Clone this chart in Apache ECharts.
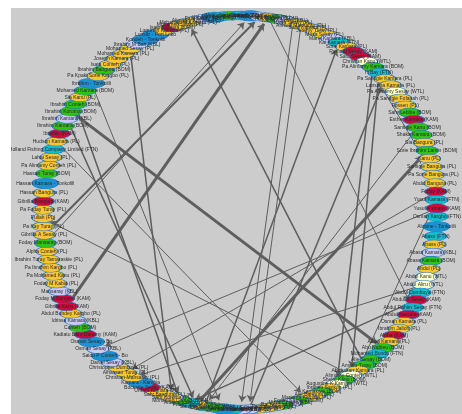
<!DOCTYPE html>
<html><head><meta charset="utf-8">
<script src="https://cdn.jsdelivr.net/npm/echarts@6/dist/echarts.min.js"></script>
<style>html,body{margin:0;padding:0;background:#fff;width:462px;height:414px;overflow:hidden}
#c{position:absolute;left:11px;top:8px;width:451px;height:406px;}</style>
</head><body><div id="c"></div>
<script>
const nodeNames = [
"Osman Kargbo (FTN)","Alusine - Tonkolili","Abass (FTN)","Abass (PL)","Abass Kamara (KBL)","Abass Kamara (BOM)","Abdul (PL)","Abdul Kanu (WTL)","Abdul Aliru (WTL)","Abdul Dumbuya (FTN)",
"Abdul K Sesay (KAM)","Abdul Rahim Sesay (FTN)","Abdul Kamara (KAM)","Osman Kamara (PL)","Ibrahim Jalloh (PL)","Alpha (KAM)","Alhaji Kamara (PL)","Abu Nabieu (BOM)","Mohamed Bundu (FTN)","Alie Sesay (BOM)",
"Amadu Turay (BOM)","Abubakarr Kamara (PL)","Alimamy Conteh (WTL)","Sheku Kanu (BOM)","Augustine K Kamara (WTL)","Ibrahim Sankoh (PL)","Kamakwie (BOM)","Alie Bangura (PL)","Mariama Kamara (PL)","Foday Kamara (BOM)",
"Musa Conteh (KBL)","Bai Koroma (BOM)","Fatmata Sesay (PL)","Santigie A Kamara (PL)","Momoh Turay (PL)","Isata Kamara (KBL)","Abu Kamara (KBL)","Lansana Fofanah (FTN)","Sorie Kamara - Port Loko","Ibrahim Kanu (BOM)",
"Santigie Sesay (BOM)","Foday Sawaneh (PL)","Alusine Kargbo (FTN)","Mohamed Conteh (BOM)","Sahr Koroma (PL)","Sahr Bangura (PL)","Umaru Kamara (PL)","Bockarie Sesay (KAM)","Kamara - Kambia","Christian Mansaray (PL)",
"Alhassan Turay (PL)","Christopher Dumbuya (PL)","Daniel Sesay (KBL)","Saidu P Conteh - Bo","Osman Sesay (KBL)","Osman Sesay - Bo","Kadiatu Bai's Daramy (KAM)","Conteh (BOM)","Idrissa Kamara (KBL)","Abdul Bundey Kargbo (PL)",
"Gibrilla Kanu (KAM)","Foday M Bangura (KAM)","Mansaray (KBL)","Foday M Kabia (PL)","Pa Mohamed Kanu (PL)","Pa Ibrahim Kargbo (PL)","Ibrahim Turay Tamaraskie (PL)","Alpha Conteh (PL)","Foday Mansaray (BOM)","Gibrilla A Sesay (PL)",
"Pa Kay Turay (PL)","Fullah (PL)","Pa Foday Turay (PL)","Gibrilla Bangura (KAM)","Hassan Bangura (PL)","Hassan Kamara - Tonkolili","Hassan Turay (BOM)","Pa Alimamy Conteh (PL)","Lahai Sesay (PL)","Holland Fishing Company Limited (FTN)",
"Hudson Kamara (PL)","Ibrahim (KAM)","Ibrahim Kamara (BOM)","Ibrahim Kamara (KBL)","Ibrahim Koroma (BOM)","Ibrahim Conteh (BOM)","Sia Kanu (PL)","Mohamed Kamara (BOM)","Ibrahim - Tonkolili","Pa Kpaki Sorie Kargbo (PL)",
"Ibrahim Bangura (BOM)","Isata Conteh (PL)","Joseph Kamara (PL)","Mohamed Kamara (PL)","Mohamed Sesay (PL)","Ibrahim M Bah (KBL)","Kondeh - Tonkolili","Lunsar - Port Loko","Logunah Kamara (PL)","Isatu Kamara (KAM)",
"Mohamed Sillah (PL)","Mohamed M Kamara (PL)","Alimamy Koroma (PL)","Fatu Sesay (KBL)","Kabala - Koinadugu","Mamadu Bah (FTN)","Mohamed Kallay (BOM)","Sorie Conteh (FTN)","Makeni - Bombali","Adama Sesay (KBL)",
"Amadu Kargbo (PL)","Alie Koroma (BOM)","Kadie Koroma (KBL)","Hawa Sesay (PL)","Ahmed Mansaray (PL)","Sallu Kamara (PL)","Jeremy Turay (PL)","Musa Sesay (PL)","Marie Kamara (KBL)","Kai Kamara (FTN)",
"Sorie Kamara (PL)","Ramatu Sesay (KAM)","Sahr Sesay (KAM)","Christian Kanu (WTL)","Pa Alimamy Kamara (BOM)","H Bay (FTN)","Pa Santigie Kamara (PL)","Lansana Kamara (PL)","Pa Alimamy Sesay (WTL)","Pa Santigie Fofanah (PL)",
"Fossen (PL)","Sahr Lebbie (BOM)","Esther Kamara (KAM)","Santigie Kanu (BOM)","Shaka Kamara (BOM)","Sia Bangura (PL)","Sorie Ibrahim Lamin (BOM)","Kanu (PL)","Santigie Bangura (PL)","Pa Sorie Bangura (PL)",
"Abdul Bangura (PL)","Foday (KAM)","Yusuf Kamara (FTN)","Yusuf Kamara (KAM)"
];
const nodeGroups = [
"FTN","DIS","FTN","PL","KBL","BOM","PL","WTL","WTL","FTN",
"KAM","FTN","KAM","PL","PL","KAM","PL","BOM","FTN","BOM",
"BOM","PL","WTL","BOM","WTL","PL","BOM","PL","PL","BOM",
"KBL","BOM","PL","PL","PL","KBL","KBL","FTN","DIS","BOM",
"BOM","PL","FTN","BOM","PL","PL","PL","KAM","DIS","PL",
"PL","PL","KBL","DIS","KBL","DIS","KAM","BOM","KBL","PL",
"KAM","KAM","KBL","PL","PL","PL","PL","PL","BOM","PL",
"PL","PL","PL","KAM","PL","DIS","BOM","PL","PL","FTN",
"PL","KAM","BOM","KBL","BOM","BOM","PL","BOM","DIS","PL",
"BOM","PL","PL","PL","PL","KBL","DIS","DIS","PL","KAM",
"PL","PL","PL","KBL","DIS","FTN","BOM","FTN","DIS","KBL",
"PL","BOM","KBL","PL","PL","PL","PL","PL","KBL","FTN",
"PL","KAM","KAM","WTL","BOM","FTN","PL","PL","WTL","PL",
"PL","BOM","KAM","BOM","BOM","PL","BOM","PL","PL","PL",
"PL","KAM","FTN","KAM"
];
const edgeSources = [
"Gibrilla Kanu (KAM)","Gibrilla A Sesay (PL)","Foday Mansaray (BOM)","Amadu Turay (BOM)","Amadu Kargbo (PL)",
"Santigie Sesay (BOM)","Pa Alimamy Kamara (BOM)","Ibrahim Koroma (BOM)","Ibrahim Conteh (BOM)","Ibrahim Kamara (KBL)",
"Alimamy Conteh (WTL)","Foday Sawaneh (PL)","Isata Kamara (KBL)","Santigie Kanu (BOM)","Yusuf Kamara (FTN)",
"Abdul Aliru (WTL)","Abdul K Sesay (KAM)","H Bay (FTN)","Christian Kanu (WTL)","Yusuf Kamara (KAM)",
"Foday (KAM)","Mohamed Sesay (PL)","Ibrahim - Tonkolili","Ahmed Mansaray (PL)","Hawa Sesay (PL)",
"Hudson Kamara (PL)"
];
const edgeTargets = [
"Amadu Kargbo (PL)","Adama Sesay (KBL)","Makeni - Bombali","Mohamed M Kamara (PL)","Abdul Rahim Sesay (FTN)",
"Kai Kamara (FTN)","Augustine K Kamara (WTL)","Abu Nabieu (BOM)","Mohamed Conteh (BOM)","Foday Sawaneh (PL)",
"Fullah (PL)","Sorie Ibrahim Lamin (BOM)","Pa Santigie Kamara (PL)","Santigie Sesay (BOM)","Abubakarr Kamara (PL)",
"Christian Mansaray (PL)","Alusine Kargbo (FTN)","Alimamy Conteh (WTL)","Pa Sorie Bangura (PL)","Osman Sesay (KBL)",
"Alhassan Turay (PL)","Sahr Koroma (PL)","Sorie Kamara - Port Loko","Isata Kamara (KBL)","Abu Kamara (KBL)",
"Mariama Kamara (PL)"
];
const edgeWeights = [
3,2,1,1.5,1,
1.5,1.5,3,1.5,1.5,
1,3,1.5,1,1,
1,1.5,1.5,1,1,
1,1.5,1,1,1,
1
];

const groupColors = {PL:'#f8c630',BOM:'#2ec414',KAM:'#cc0a3c',FTN:'#10bece',KBL:'#c9c9f2',WTL:'#ffffcc',DIS:'#1b93d3'};

const nodes = nodeNames.map((n,i)=>({
  name:n,
  symbolSize: nodeGroups[i]==='DIS' ? [26,10.5] : [22,9],
  itemStyle:{color:groupColors[nodeGroups[i]]}
}));
const links = edgeSources.map((s,i)=>({
  source:s, target:edgeTargets[i],
  lineStyle:{width:edgeWeights[i]}
}));

const chart = echarts.init(document.getElementById('c'));
chart.setOption({
  backgroundColor:'#cccccc',
  animation:false,
  series:[{
    type:'graph',
    layout:'circular',
    circular:{rotateLabel:false},
    left:32, top:7.5, width:394, height:394,
    roam:false,
    symbol:'circle',
    edgeSymbol:['none','arrow'],
    edgeSymbolSize:[0,6.5],
    itemStyle:{borderColor:'#1f78c8',borderWidth:0.8},
    label:{show:true,position:'inside',fontSize:5,color:'#2a2a2a',fontFamily:'Liberation Sans'},
    lineStyle:{color:'#5e5e5e',opacity:1,curveness:0},
    emphasis:{disabled:true},
    data:nodes,
    links:links
  }]
});
</script></body></html>
